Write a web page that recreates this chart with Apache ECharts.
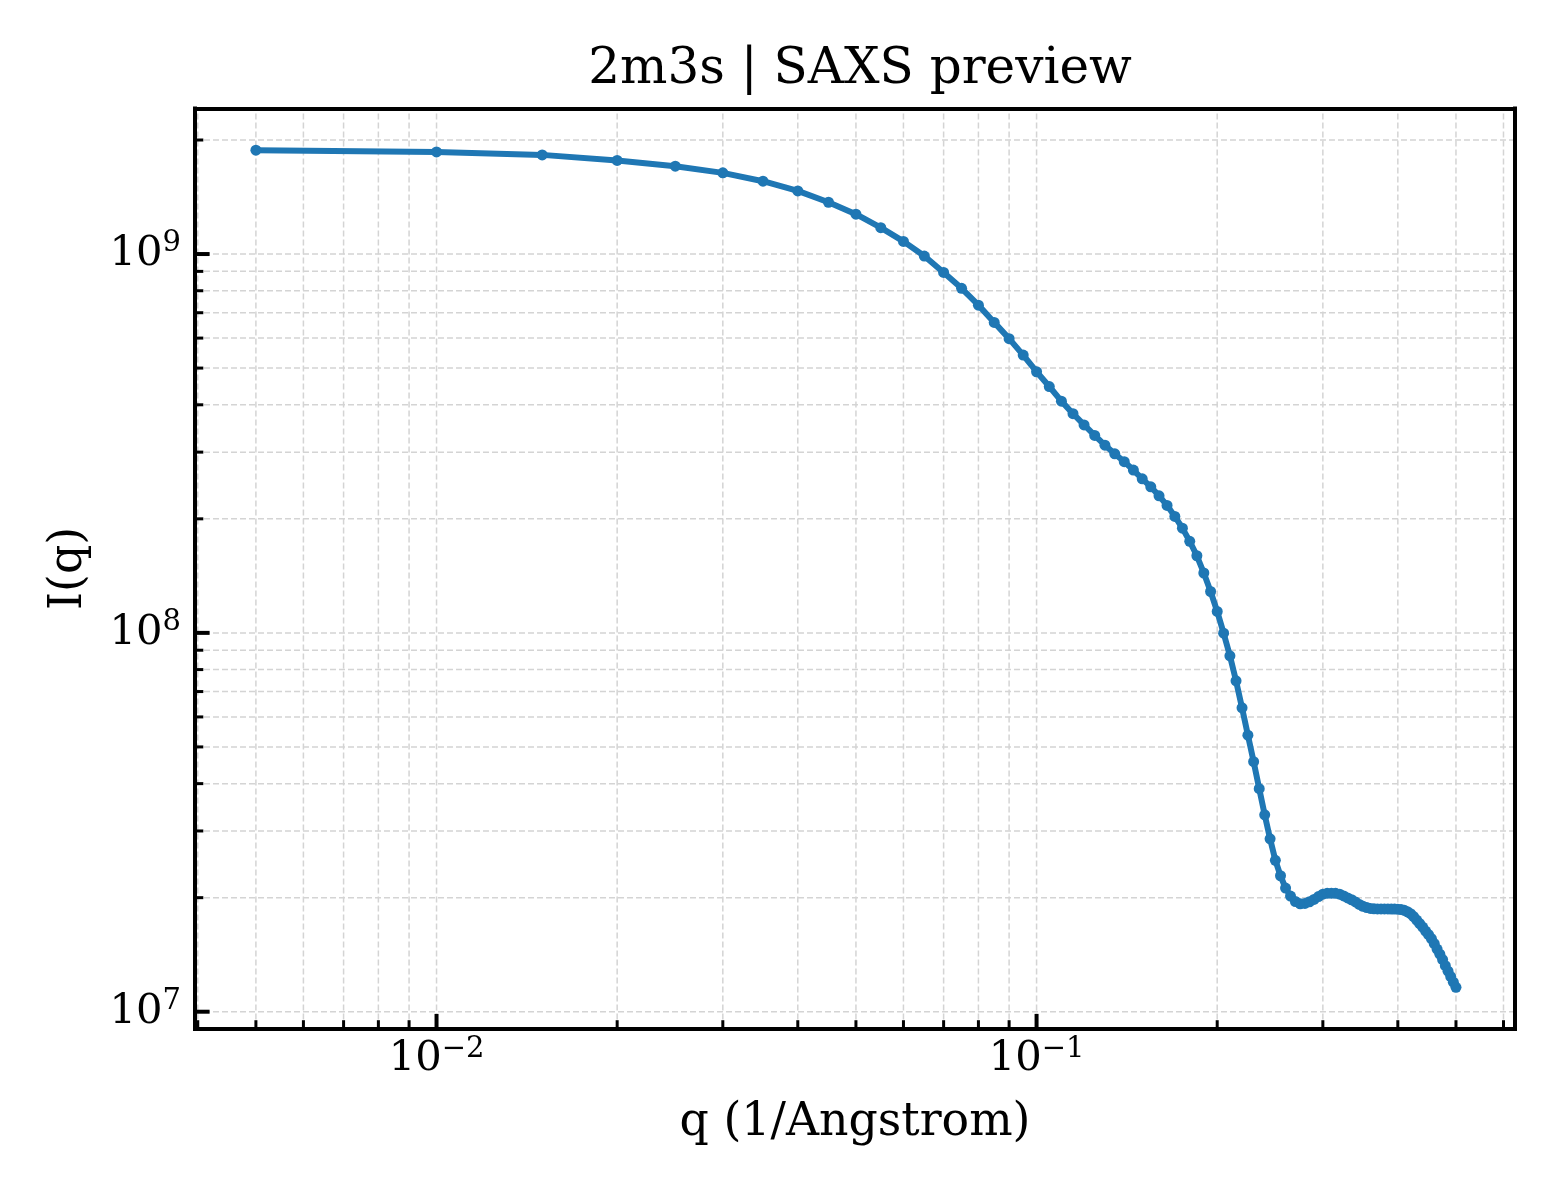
<!DOCTYPE html>
<html>
<head>
<meta charset="utf-8">
<script src="https://cdn.jsdelivr.net/npm/echarts@6/dist/echarts.min.js"></script>
<style>html,body{margin:0;padding:0;background:#fff}#c{width:1560px;height:1200px}</style>
</head>
<body>
<div id="c"></div>
<script>
// ---- data ----
const q = [0.005,0.01,0.015,0.02,0.025,0.03,0.035,0.04,0.045,0.05,
  0.055,0.06,0.065,0.07,0.075,0.08,0.085,0.09,0.095,0.1,
  0.105,0.11,0.115,0.12,0.125,0.13,0.135,0.14,0.145,0.15,
  0.155,0.16,0.165,0.17,0.175,0.18,0.185,0.19,0.195,0.2,
  0.205,0.21,0.215,0.22,0.225,0.23,0.235,0.24,0.245,0.25,
  0.255,0.26,0.265,0.27,0.275,0.28,0.285,0.29,0.295,0.3,
  0.305,0.31,0.315,0.32,0.325,0.33,0.335,0.34,0.345,0.35,
  0.355,0.36,0.365,0.37,0.375,0.38,0.385,0.39,0.395,0.4,
  0.405,0.41,0.415,0.42,0.425,0.43,0.435,0.44,0.445,0.45,
  0.455,0.46,0.465,0.47,0.475,0.48,0.485,0.49,0.495,0.5];
const intensity = [1.88e9,1.86e9,1.827e9,1.766e9,1.706e9,1.638e9,1.557e9,1.468e9,1.370e9,1.274e9,
  1.174e9,1.080e9,9.88e8,8.94e8,8.12e8,7.33e8,6.60e8,5.98e8,5.41e8,4.89e8,
  4.47e8,4.09e8,3.79e8,3.54e8,3.32e8,3.13e8,2.97e8,2.83e8,2.69e8,2.55e8,
  2.43e8,2.30e8,2.17e8,2.03e8,1.89e8,1.744e8,1.598e8,1.439e8,1.286e8,1.139e8,
  9.98e7,8.70e7,7.47e7,6.34e7,5.37e7,4.57e7,3.88e7,3.31e7,2.86e7,2.51e7,
  2.285e7,2.12e7,2.02e7,1.954e7,1.927e7,1.931e7,1.951e7,1.979e7,2.013e7,2.043e7,
  2.053e7,2.056e7,2.053e7,2.043e7,2.021e7,1.997e7,1.975e7,1.949e7,1.919e7,1.898e7,
  1.884e7,1.873e7,1.869e7,1.868e7,1.868e7,1.868e7,1.868e7,1.867e7,1.866e7,1.865e7,
  1.860e7,1.852e7,1.836e7,1.814e7,1.783e7,1.746e7,1.709e7,1.673e7,1.633e7,1.598e7,
  1.560e7,1.513e7,1.463e7,1.419e7,1.373e7,1.323e7,1.279e7,1.238e7,1.197e7,1.160e7];
const xMajorTicks = [0.01, 0.1];
const xMinorTicks = [0.004,0.005,0.006,0.007,0.008,0.009,
  0.02,0.03,0.04,0.05,0.06,0.07,0.08,0.09,
  0.2,0.3,0.4,0.5,0.6];
const yMajorTicks = [1e7, 1e8, 1e9];
const yMinorTicks = [2e7,3e7,4e7,5e7,6e7,7e7,8e7,9e7,
  2e8,3e8,4e8,5e8,6e8,7e8,8e8,9e8,2e9];
const X_MIN = 0.003958, X_MAX = 0.6271;
const Y_MIN = 9.03e6, Y_MAX = 2.422e9;
const titleText = '2m3s | SAXS preview';
const xName = 'q (1/Angstrom)';
const yName = 'I(q)';

// ---- rendering ----
const FONT = 'DejaVu Serif';
const GRID_STYLE = {stroke: '#d4d4d4', lineWidth: 1.5, lineDash: [6, 3]};

function vGrid(params, api) {
  const v = api.value(0);
  const a = api.coord([v, Y_MIN]), b = api.coord([v, Y_MAX]);
  return {type: 'line', shape: {x1: a[0], y1: a[1], x2: b[0], y2: b[1]}, style: GRID_STYLE};
}
function hGrid(params, api) {
  const v = api.value(1);
  const a = api.coord([X_MIN, v]), b = api.coord([X_MAX, v]);
  return {type: 'line', shape: {x1: a[0], y1: a[1], x2: b[0], y2: b[1]}, style: GRID_STYLE};
}
function xTick(len, w) {
  return function (params, api) {
    const a = api.coord([api.value(0), Y_MIN]);
    return {type: 'line', shape: {x1: a[0], y1: a[1], x2: a[0], y2: a[1] - len},
      style: {stroke: '#000', lineWidth: w}};
  };
}
function yTick(len, w) {
  return function (params, api) {
    const a = api.coord([X_MIN, api.value(1)]);
    return {type: 'line', shape: {x1: a[0], y1: a[1], x2: a[0] + len, y2: a[1]},
      style: {stroke: '#000', lineWidth: w}};
  };
}
function powLabel(v) {
  const e = Math.log10(v), r = Math.round(e);
  if (Math.abs(e - r) > 1e-6) return '';
  return '{b|10}{s|' + (r < 0 ? '\u2212' + (-r) : String(r)) + '}';
}
const labelRich = {
  b: {fontFamily: FONT, fontSize: 41.7, lineHeight: 50, color: '#000'},
  s: {fontFamily: FONT, fontSize: 29, lineHeight: 29, color: '#000', verticalAlign: 'top'}
};
const spine = {show: true, onZero: false, lineStyle: {color: '#000', width: 4, cap: 'square'}};

const chart = echarts.init(document.getElementById('c'), null, {renderer: 'canvas'});
chart.setOption({
  animation: false,
  backgroundColor: '#fff',
  title: {
    text: titleText, left: 855, textAlign: 'center', top: 40,
    textStyle: {fontFamily: FONT, fontSize: 50, fontWeight: 'normal', color: '#000'}
  },
  grid: {left: 195, right: 45, top: 108.5, bottom: 171.5, containLabel: false},
  xAxis: [{
    type: 'log', logBase: 10, min: X_MIN, max: X_MAX, position: 'bottom', z: 10,
    axisLine: spine, axisTick: {show: false}, splitLine: {show: false}, minorTick: {show: false},
    axisLabel: {show: true, margin: 6, formatter: powLabel, rich: labelRich, showMinLabel: true, showMaxLabel: true},
    name: xName, nameLocation: 'middle', nameGap: 72,
    nameTextStyle: {fontFamily: FONT, fontSize: 45.8, color: '#000'}
  }, {
    type: 'log', logBase: 10, min: X_MIN, max: X_MAX, position: 'top', z: 10,
    axisLine: spine, axisTick: {show: false}, splitLine: {show: false}, axisLabel: {show: false}
  }],
  yAxis: [{
    type: 'log', logBase: 10, min: Y_MIN, max: Y_MAX, position: 'left', z: 10,
    axisLine: spine, axisTick: {show: false}, splitLine: {show: false}, minorTick: {show: false},
    axisLabel: {show: true, margin: 14, formatter: powLabel, rich: labelRich},
    name: yName, nameLocation: 'middle', nameGap: 103,
    nameTextStyle: {fontFamily: FONT, fontSize: 45.8, color: '#000'}
  }, {
    type: 'log', logBase: 10, min: Y_MIN, max: Y_MAX, position: 'right', z: 10,
    axisLine: spine, axisTick: {show: false}, splitLine: {show: false}, axisLabel: {show: false}
  }],
  series: [
    {type: 'custom', name: 'vgrid', silent: true, z: 1, renderItem: vGrid,
      data: xMajorTicks.concat(xMinorTicks).map(v => [v, Y_MIN])},
    {type: 'custom', name: 'hgrid', silent: true, z: 1, renderItem: hGrid,
      data: yMajorTicks.concat(yMinorTicks).map(v => [X_MIN, v])},
    {
      type: 'line', name: 'I(q)', z: 5,
      data: q.map((x, i) => [x, intensity[i]]),
      symbol: 'circle', symbolSize: 11, showSymbol: true, showAllSymbol: true,
      lineStyle: {color: '#1f77b4', width: 6},
      itemStyle: {color: '#1f77b4', borderWidth: 0},
      emphasis: {disabled: true}
    },
    {type: 'custom', name: 'xmajor', silent: true, z: 8, renderItem: xTick(14.6, 4),
      data: xMajorTicks.map(v => [v, Y_MIN])},
    {type: 'custom', name: 'xminor', silent: true, z: 8, renderItem: xTick(8.3, 3),
      data: xMinorTicks.map(v => [v, Y_MIN])},
    {type: 'custom', name: 'ymajor', silent: true, z: 8, renderItem: yTick(14.6, 4),
      data: yMajorTicks.map(v => [X_MIN, v])},
    {type: 'custom', name: 'yminor', silent: true, z: 8, renderItem: yTick(8.3, 3),
      data: yMinorTicks.map(v => [X_MIN, v])}
  ]
});
</script>
</body>
</html>
